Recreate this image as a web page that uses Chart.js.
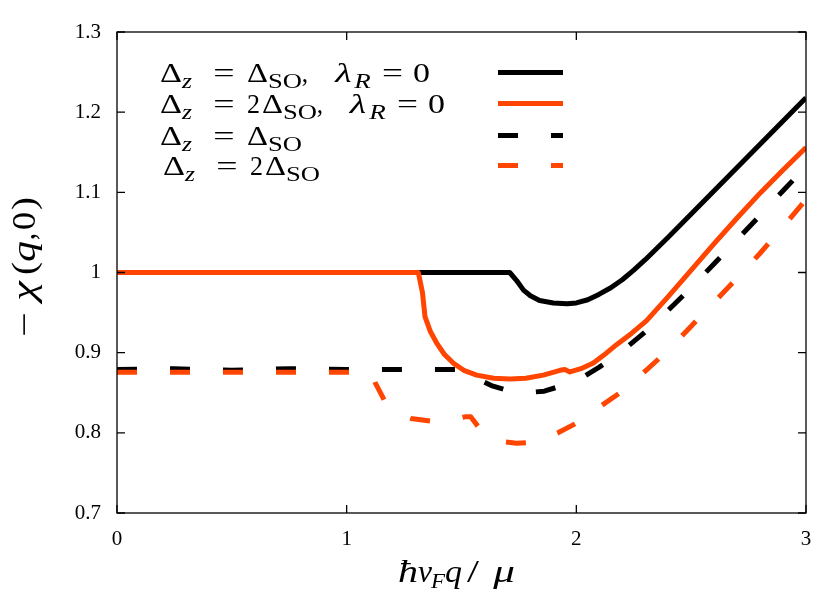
<!DOCTYPE html>
<html><head><meta charset="utf-8">
<script src="https://cdn.jsdelivr.net/npm/chart.js@4.4.0/dist/chart.umd.min.js"></script>
<style>html,body{margin:0;padding:0;background:#fff;}canvas{display:block;}</style>
</head><body>
<canvas id="c" width="831" height="606"></canvas>
<script>
// ---- ticks ----
const xTicks = [0, 1, 2, 3];
const xTickLabels = ['0', '1', '2', '3'];
const yTicks = [0.7, 0.8, 0.9, 1.0, 1.1, 1.2, 1.3];
const yTickLabels = ['0.7', '0.8', '0.9', '1', '1.1', '1.2', '1.3'];

// ---- series: Δz = ΔSO, λR = 0 (black solid) ----
const blackSolidX = [0, 1.71, 1.74, 1.77, 1.80, 1.84, 1.90, 1.96, 2.00, 2.05, 2.10, 2.15, 2.20, 2.25, 2.30, 2.35, 2.40, 2.50, 2.60, 2.70, 2.80, 2.90, 3.00];
const blackSolidY = [1.0, 1.0, 0.990, 0.978, 0.971, 0.965, 0.962, 0.961, 0.962, 0.966, 0.973, 0.981, 0.991, 1.003, 1.016, 1.030, 1.044, 1.073, 1.102, 1.131, 1.160, 1.189, 1.218];

// ---- series: Δz = 2ΔSO, λR = 0 (orange solid) ----
const orangeSolidX = [0, 1.312, 1.33, 1.341, 1.365, 1.392, 1.425, 1.464, 1.51, 1.566, 1.64, 1.711, 1.78, 1.856, 1.929, 1.95, 1.972, 2.02, 2.074, 2.12, 2.175, 2.24, 2.306, 2.40, 2.50, 2.60, 2.70, 2.80, 2.90, 3.00];
const orangeSolidY = [1.0, 1.0, 0.975, 0.945, 0.926, 0.912, 0.898, 0.887, 0.878, 0.872, 0.868, 0.867, 0.868, 0.872, 0.878, 0.879, 0.876, 0.880, 0.887, 0.897, 0.910, 0.924, 0.940, 0.970, 1.003, 1.036, 1.068, 1.099, 1.128, 1.156];

// ---- series: Δz = ΔSO (black dashed) ----
const blackDashX = [0, 0.25, 0.5, 0.75, 1.0, 1.25, 1.5, 1.54, 1.58, 1.63, 1.70, 1.78, 1.86, 1.94, 2.02, 2.10, 2.20, 2.30, 2.40, 2.50, 2.60, 2.70, 2.80, 2.90, 3.00];
const blackDashY = [0.879, 0.880, 0.878, 0.880, 0.879, 0.879, 0.879, 0.874, 0.866, 0.859, 0.853, 0.850, 0.852, 0.859, 0.868, 0.882, 0.902, 0.926, 0.953, 0.981, 1.011, 1.041, 1.071, 1.102, 1.132];

// ---- series: Δz = 2ΔSO (orange dashed) ----
const orangeDashX = [0, 1.11, 1.125, 1.167, 1.21, 1.28, 1.38, 1.45, 1.515, 1.54, 1.58, 1.63, 1.68, 1.74, 1.80, 1.86, 1.92, 2.00, 2.10, 2.20, 2.30, 2.40, 2.50, 2.60, 2.70, 2.80, 2.90, 3.00];
const orangeDashY = [0.8755, 0.8755, 0.862, 0.839, 0.826, 0.818, 0.814, 0.815, 0.820, 0.820, 0.805, 0.795, 0.789, 0.787, 0.788, 0.793, 0.800, 0.812, 0.832, 0.852, 0.877, 0.903, 0.933, 0.963, 0.993, 1.024, 1.057, 1.091];

const ORANGE = '#ff4500';
const FONT = '"Liberation Serif", "DejaVu Serif", serif';
const pts = (xs, ys) => xs.map((x, i) => ({ x: x, y: ys[i] }));

// legend entries: rich-text pieces, o = start offset, w = width of the piece
const legendItems = [
  { ds: 0, segs: [{t:'Δ',o:0,w:22},{t:'z',i:1,sub:1,o:22,w:10},{t:'=',o:53,w:22},{t:'Δ',o:87,w:21},{t:'SO',sub:1,o:108,w:34},{t:',',o:142,w:6},{t:'λ',i:1,o:173,w:21},{t:'R',i:1,sub:1,o:193,w:19},{t:'=',o:222,w:21},{t:'0',o:253,w:17}] },
  { ds: 1, segs: [{t:'Δ',o:0,w:22},{t:'z',i:1,sub:1,o:22,w:10},{t:'=',o:53,w:22},{t:'2',o:87,w:13},{t:'Δ',o:102,w:21},{t:'SO',sub:1,o:123,w:34},{t:',',o:157,w:6},{t:'λ',i:1,o:188,w:20},{t:'R',i:1,sub:1,o:208,w:19},{t:'=',o:237,w:21},{t:'0',o:268,w:17}] },
  { ds: 2, segs: [{t:'Δ',o:0,w:22},{t:'z',i:1,sub:1,o:22,w:10},{t:'=',o:53,w:22},{t:'Δ',o:87,w:21},{t:'SO',sub:1,o:108,w:34}] },
  { ds: 3, segs: [{t:'Δ',o:0,w:22},{t:'z',i:1,sub:1,o:22,w:10},{t:'=',o:53,w:22},{t:'2',o:87,w:13},{t:'Δ',o:102,w:21},{t:'SO',sub:1,o:123,w:34}] }
];
const xTitle = [{t:'ħ',i:1,o:0,w:20},{t:'v',i:1,o:20,w:14},{t:'F',i:1,sub:1,o:33,w:14},{t:'q',i:1,o:47,w:17},{t:'/',o:65,w:20},{t:'μ',i:1,o:92,w:28}];
const yTitle = [{t:'−',o:0,w:25},{t:'χ',i:1,o:31,w:30},{t:'(',o:62,w:13},{t:'q',i:1,o:75,w:21},{t:',',o:97,w:7},{t:'0',o:107,w:18},{t:')',o:127,w:13}];

function drawRich(ctx, segs, x, y, size) {
  ctx.textAlign = 'center';
  ctx.textBaseline = 'alphabetic';
  segs.forEach(s => {
    const fs = s.sub ? Math.round(size * 0.7) : size;
    ctx.font = (s.i ? 'italic ' : '') + fs + 'px ' + FONT;
    const nat = ctx.measureText(s.t).width;
    const sx = Math.max(0.9, Math.min(1.35, s.w / nat));
    ctx.save();
    ctx.translate(x + s.o + s.w / 2, y + (s.sub ? size * 0.2 : 0));
    ctx.scale(sx, 1);
    ctx.fillText(s.t, 0, 0);
    ctx.restore();
  });
}

const decor = {
  id: 'decor',
  afterDraw(chart) {
    const ctx = chart.ctx, a = chart.chartArea;
    const xs = chart.scales.x, ys = chart.scales.y;
    ctx.save();
    ctx.strokeStyle = '#000';
    ctx.lineWidth = 1.3;
    ctx.strokeRect(a.left, a.top, a.right - a.left, a.bottom - a.top);
    const tl = 8;
    ctx.beginPath();
    xTicks.forEach(v => {
      const px = xs.getPixelForValue(v);
      ctx.moveTo(px, a.bottom); ctx.lineTo(px, a.bottom - tl);
      ctx.moveTo(px, a.top); ctx.lineTo(px, a.top + tl);
    });
    yTicks.forEach(v => {
      const py = ys.getPixelForValue(v);
      ctx.moveTo(a.left, py); ctx.lineTo(a.left + tl, py);
      ctx.moveTo(a.right, py); ctx.lineTo(a.right - tl, py);
    });
    ctx.stroke();

    // legend
    ctx.fillStyle = '#000';
    const baselines = [82, 113, 145, 175];
    const textX = [160, 160, 160, 163];
    legendItems.forEach((it, k) => {
      drawRich(ctx, it.segs, textX[k], baselines[k], 28);
      const ds = chart.data.datasets[it.ds];
      ctx.save();
      ctx.strokeStyle = ds.borderColor;
      ctx.lineWidth = ds.borderWidth;
      ctx.setLineDash(ds.borderDash || []);
      ctx.lineCap = 'butt';
      ctx.beginPath();
      const ly = baselines[k] - 9.5;
      ctx.moveTo(498, ly); ctx.lineTo(563, ly);
      ctx.stroke();
      ctx.restore();
    });

    // axis titles
    drawRich(ctx, xTitle, 398, 582, 32);
    ctx.save();
    ctx.translate(35, 337);
    ctx.rotate(-Math.PI / 2);
    drawRich(ctx, yTitle, 0, 0, 33);
    ctx.restore();
    ctx.restore();
  }
};

new Chart(document.getElementById('c'), {
  type: 'line',
  data: {
    datasets: [
      { label: 'Δz = ΔSO, λR = 0', data: pts(blackSolidX, blackSolidY), borderColor: '#000', borderWidth: 5, order: 3 },
      { label: 'Δz = 2ΔSO, λR = 0', data: pts(orangeSolidX, orangeSolidY), borderColor: ORANGE, borderWidth: 5, order: 1 },
      { label: 'Δz = ΔSO', data: pts(blackDashX, blackDashY), borderColor: '#000', borderWidth: 5, borderDash: [20, 33], order: 4 },
      { label: 'Δz = 2ΔSO', data: pts(orangeDashX, orangeDashY), borderColor: ORANGE, borderWidth: 5, borderDash: [20, 33], order: 2 }
    ]
  },
  options: {
    responsive: false,
    animation: false,
    devicePixelRatio: 1,
    layout: { padding: { top: 32, right: 25, left: 0, bottom: 0 } },
    elements: { point: { radius: 0 }, line: { tension: 0, fill: false, borderJoinStyle: 'round', borderCapStyle: 'butt' } },
    plugins: { legend: { display: false }, tooltip: { enabled: false } },
    scales: {
      x: {
        type: 'linear', min: 0, max: 3,
        afterBuildTicks: s => { s.ticks = xTicks.map(v => ({ value: v })); },
        afterFit: s => { s.height = 93; },
        ticks: { callback: v => xTickLabels[xTicks.indexOf(v)], color: '#000', font: { family: FONT, size: 21 }, padding: 14, maxRotation: 0, autoSkip: false },
        grid: { display: false, drawTicks: false },
        border: { display: false }
      },
      y: {
        type: 'linear', min: 0.7, max: 1.3,
        afterBuildTicks: s => { s.ticks = yTicks.map(v => ({ value: v })); },
        afterFit: s => { s.width = 117; },
        ticks: { callback: v => yTickLabels[yTicks.indexOf(v)], color: '#000', font: { family: FONT, size: 21 }, padding: 16, autoSkip: false },
        grid: { display: false, drawTicks: false },
        border: { display: false }
      }
    }
  },
  plugins: [decor]
});
</script>
</body></html>
